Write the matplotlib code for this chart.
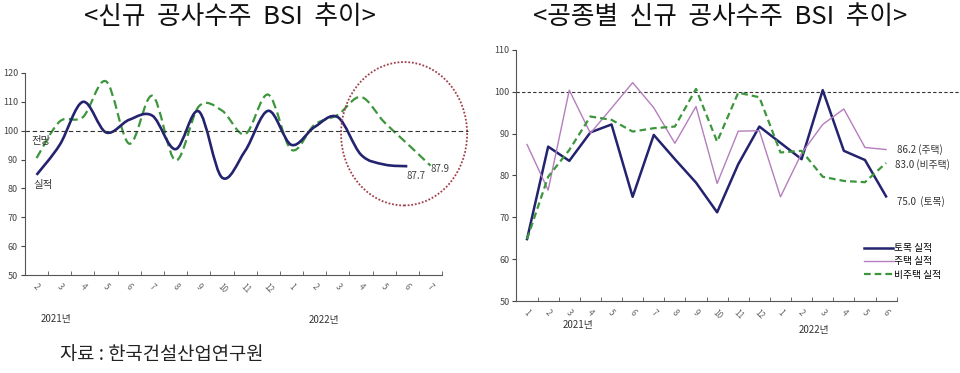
import numpy as np
import matplotlib
matplotlib.use('Agg')
from matplotlib import pyplot as plt
from matplotlib.path import Path
from matplotlib.patches import PathPatch, Ellipse

plt.rcParams['font.family'] = ['Noto Sans CJK KR', 'DejaVu Sans']

# 왼쪽: 신규 공사수주 BSI (2021.2 ~ 2022.7)
months_l = ['2', '3', '4', '5', '6', '7', '8', '9', '10', '11', '12', '1', '2', '3', '4', '5', '6', '7']
actual = [84.7, 95.1, 110.0, 99.4, 103.8, 105.2, 93.6, 106.7, 83.8, 93.0, 106.9, 95.1, 101.3, 104.7, 91.7, 88.3, 87.7]
forecast = [90.5, 103.2, 104.7, 117.1, 95.5, 112.1, 89.7, 108.4, 107.0, 98.8, 112.5, 93.4, 102.1, 105.5, 111.7, 103.0, 95.5, 87.9]

# 오른쪽: 공종별 신규 공사수주 BSI (2021.1 ~ 2022.6)
months_r = ['1', '2', '3', '4', '5', '6', '7', '8', '9', '10', '11', '12', '1', '2', '3', '4', '5', '6']
civil = [64.8, 86.9, 83.5, 90.3, 92.2, 74.9, 89.7, 83.9, 78.3, 71.2, 82.7, 91.7, 87.8, 83.9, 100.4, 85.9, 83.7, 75.0]
housing = [87.4, 76.5, 100.4, 90.1, 96.1, 102.2, 96.2, 87.7, 96.5, 78.1, 90.6, 90.7, 74.9, 85.3, 92.2, 95.9, 86.7, 86.2]
nonhousing = [64.8, 79.7, 86.1, 94.1, 93.3, 90.5, 91.3, 91.7, 100.7, 88.1, 99.8, 98.7, 85.5, 85.9, 79.7, 78.7, 78.4, 83.0]

NAVY = '#23236f'
GREEN = '#3c963c'
PURPLE = '#b57dbd'
TICK = '#444444'


def smooth_path(xs, ys):
    # Excel식 부드러운 선 (Catmull-Rom -> Bezier)
    pts = np.column_stack([xs, ys]).astype(float)
    n = len(pts)
    verts = [pts[0]]
    codes = [Path.MOVETO]
    for i in range(n - 1):
        p0 = pts[i - 1] if i > 0 else pts[i]
        p1 = pts[i]
        p2 = pts[i + 1]
        p3 = pts[i + 2] if i + 2 < n else pts[i + 1]
        c1 = p1 + (p2 - p0) / 6.0
        c2 = p2 - (p3 - p1) / 6.0
        verts += [c1, c2, p2]
        codes += [Path.CURVE4] * 3
    return Path(verts, codes)


def style_axes(ax, labels, ymin, ymax):
    n = len(labels)
    ax.set_xlim(-0.5, n - 0.5)
    ax.set_ylim(ymin, ymax)
    ax.set_yticks(range(ymin, ymax + 1, 10))
    ax.set_xticks(np.arange(n))
    ax.set_xticklabels(labels, rotation=-45, ha='center', fontsize=6, color='#666666')
    ax.set_xticks(np.arange(-0.5, n, 1), minor=True)
    ax.tick_params(axis='x', which='major', length=0, pad=5)
    ax.tick_params(axis='x', which='minor', length=3, direction='in', color='#555555')
    ax.tick_params(axis='y', labelsize=6.5, colors=TICK, length=3, direction='out', pad=2)
    for s in ['top', 'right']:
        ax.spines[s].set_visible(False)
    for s in ['left', 'bottom']:
        ax.spines[s].set_color('#555555')
        ax.spines[s].set_linewidth(0.8)


fig = plt.figure(figsize=(9.6, 3.73), dpi=100)

# ---- 왼쪽 차트
ax1 = fig.add_axes([0.026, 0.2627, 0.4345, 0.5416])
style_axes(ax1, months_l, 50, 120)
ax1.plot([-0.5, 18.6], [100, 100], color='#333333', lw=0.8, ls=(0, (4, 2.5)), clip_on=False)
x_act = np.arange(len(actual))
x_fc = np.arange(len(forecast))
ax1.add_patch(PathPatch(smooth_path(x_fc, forecast), fill=False, edgecolor=GREEN, lw=1.6,
                        ls=(0, (4, 2))))
ax1.add_patch(PathPatch(smooth_path(x_act, actual), fill=False, edgecolor=NAVY, lw=1.9))
ax1.add_patch(Ellipse((15.86, 98.95), 5.44, 49.7, fill=False, edgecolor='#a0404c', lw=1.3,
                      ls=(0, (1, 1)), clip_on=False))
ax1.text(-0.2, 96.3, '전망', fontsize=7.5, color='#333333', va='center', ha='left')
ax1.text(-0.15, 81.2, '실적', fontsize=7.5, color='#333333', va='center', ha='left')
ax1.text(16.36, 84.4, '87.7', fontsize=7, color='#444444', ha='center', va='center')
ax1.text(17.4, 86.6, '87.9', fontsize=7, color='#444444', ha='center', va='center')
ax1.text(0.82, 34.7, '2021년', fontsize=7, color='#333333', ha='center', va='center', clip_on=False)
ax1.text(12.39, 34.4, '2022년', fontsize=7, color='#333333', ha='center', va='center', clip_on=False)

# ---- 오른쪽 차트
ax2 = fig.add_axes([0.538, 0.193, 0.396, 0.673])
style_axes(ax2, months_r, 50, 110)
ax2.plot([-0.5, 20.6], [100, 100], color='#333333', lw=0.8, ls=(0, (3, 2)), clip_on=False)
xr = np.arange(len(months_r))
ax2.plot(xr, civil, color=NAVY, lw=1.8, label='토목 실적')
ax2.plot(xr, housing, color=PURPLE, lw=1.0, label='주택 실적')
ax2.plot(xr, nonhousing, color=GREEN, lw=1.6, ls=(0, (3, 1.8)), label='비주택 실적')
ax2.text(17.5, 86.3, '86.2 (주택)', fontsize=7, color='#333333', ha='left', va='center', clip_on=False)
ax2.text(17.4, 82.6, '83.0 (비주택)', fontsize=7, color='#333333', ha='left', va='center', clip_on=False)
ax2.text(17.5, 73.7, '75.0  (토목)', fontsize=7, color='#333333', ha='left', va='center', clip_on=False)
ax2.text(2.4, 44.3, '2021년', fontsize=7, color='#333333', ha='center', va='center', clip_on=False)
ax2.text(13.6, 43.0, '2022년', fontsize=7, color='#333333', ha='center', va='center', clip_on=False)
ax2.legend(loc='lower right', bbox_to_anchor=(1.14, 0.05), frameon=False, fontsize=7,
           handlelength=3.0, handletextpad=0.1, labelspacing=0.35)

# ---- 제목, 출처
fig.text(0.24, 0.955, '<신규  공사수주  BSI  추이>', fontsize=18.5, fontweight='medium',
         ha='center', va='center', color='#111111')
fig.text(0.75, 0.955, '<공종별  신규  공사수주  BSI  추이>', fontsize=18.5, fontweight='medium',
         ha='center', va='center', color='#111111')
fig.text(0.0625, 0.05, '자료 : 한국건설산업연구원', fontsize=13.5, ha='left', va='center', color='#222222')

fig.savefig('out.png', dpi=100, facecolor='white')
